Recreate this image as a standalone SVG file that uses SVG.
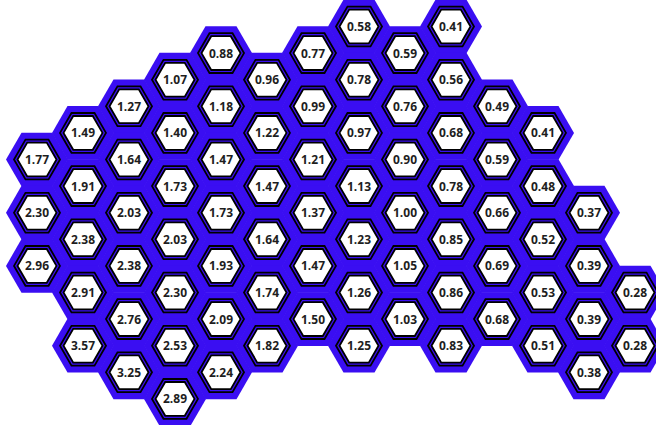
<svg xmlns="http://www.w3.org/2000/svg" xmlns:xlink="http://www.w3.org/1999/xlink" width="656" height="425" viewBox="0 0 656 425">
<style>
.t{font-family:"Open Sans","Liberation Sans",sans-serif;font-size:12px;font-weight:700;fill:#1e1e1e;text-anchor:middle;dominant-baseline:central}
.blue{fill:#3a0ef2}
.ring{fill:none;stroke:#000;stroke-width:1.8}
.in{fill:#fff;stroke:#000;stroke-width:1.8}
</style>
<defs>
<polygon id="bh" class="blue" points="31,0 15.5,26.85 -15.5,26.85 -31,0 -15.5,-26.85 15.5,-26.85"/>
<g id="cell">
<polygon class="ring" points="23,0 11.5,19.92 -11.5,19.92 -23,0 -11.5,-19.92 11.5,-19.92"/>
<polygon class="in" points="19.5,0 9.75,16.89 -9.75,16.89 -19.5,0 -9.75,-16.89 9.75,-16.89"/>
</g>
</defs>
<g id="tiles">
<use href="#bh" x="37" y="159.5"/><use href="#bh" x="37" y="212.7"/><use href="#bh" x="37" y="265.9"/>
<use href="#bh" x="83" y="132.9"/><use href="#bh" x="83" y="186.1"/><use href="#bh" x="83" y="239.3"/><use href="#bh" x="83" y="292.5"/><use href="#bh" x="83" y="345.7"/>
<use href="#bh" x="129" y="106.3"/><use href="#bh" x="129" y="159.5"/><use href="#bh" x="129" y="212.7"/><use href="#bh" x="129" y="265.9"/><use href="#bh" x="129" y="319.1"/><use href="#bh" x="129" y="372.3"/>
<use href="#bh" x="175" y="79.7"/><use href="#bh" x="175" y="132.9"/><use href="#bh" x="175" y="186.1"/><use href="#bh" x="175" y="239.3"/><use href="#bh" x="175" y="292.5"/><use href="#bh" x="175" y="345.7"/><use href="#bh" x="175" y="398.9"/>
<use href="#bh" x="221" y="53.1"/><use href="#bh" x="221" y="106.3"/><use href="#bh" x="221" y="159.5"/><use href="#bh" x="221" y="212.7"/><use href="#bh" x="221" y="265.9"/><use href="#bh" x="221" y="319.1"/><use href="#bh" x="221" y="372.3"/>
<use href="#bh" x="267" y="79.7"/><use href="#bh" x="267" y="132.9"/><use href="#bh" x="267" y="186.1"/><use href="#bh" x="267" y="239.3"/><use href="#bh" x="267" y="292.5"/><use href="#bh" x="267" y="345.7"/>
<use href="#bh" x="313" y="53.1"/><use href="#bh" x="313" y="106.3"/><use href="#bh" x="313" y="159.5"/><use href="#bh" x="313" y="212.7"/><use href="#bh" x="313" y="265.9"/><use href="#bh" x="313" y="319.1"/>
<use href="#bh" x="359" y="26.5"/><use href="#bh" x="359" y="79.7"/><use href="#bh" x="359" y="132.9"/><use href="#bh" x="359" y="186.1"/><use href="#bh" x="359" y="239.3"/><use href="#bh" x="359" y="292.5"/><use href="#bh" x="359" y="345.7"/>
<use href="#bh" x="405" y="53.1"/><use href="#bh" x="405" y="106.3"/><use href="#bh" x="405" y="159.5"/><use href="#bh" x="405" y="212.7"/><use href="#bh" x="405" y="265.9"/><use href="#bh" x="405" y="319.1"/>
<use href="#bh" x="451" y="26.5"/><use href="#bh" x="451" y="79.7"/><use href="#bh" x="451" y="132.9"/><use href="#bh" x="451" y="186.1"/><use href="#bh" x="451" y="239.3"/><use href="#bh" x="451" y="292.5"/><use href="#bh" x="451" y="345.7"/>
<use href="#bh" x="497" y="106.3"/><use href="#bh" x="497" y="159.5"/><use href="#bh" x="497" y="212.7"/><use href="#bh" x="497" y="265.9"/><use href="#bh" x="497" y="319.1"/>
<use href="#bh" x="543" y="132.9"/><use href="#bh" x="543" y="186.1"/><use href="#bh" x="543" y="239.3"/><use href="#bh" x="543" y="292.5"/><use href="#bh" x="543" y="345.7"/>
<use href="#bh" x="589" y="212.7"/><use href="#bh" x="589" y="265.9"/><use href="#bh" x="589" y="319.1"/><use href="#bh" x="589" y="372.3"/>
<use href="#bh" x="635" y="292.5"/><use href="#bh" x="635" y="345.7"/>
</g>
<g id="c0_2" transform="translate(37,159.5)"><use href="#cell"/><text class="t">1.77</text></g>
<g id="c0_3" transform="translate(37,212.7)"><use href="#cell"/><text class="t">2.30</text></g>
<g id="c0_4" transform="translate(37,265.9)"><use href="#cell"/><text class="t">2.96</text></g>
<g id="c1_2" transform="translate(83,132.9)"><use href="#cell"/><text class="t">1.49</text></g>
<g id="c1_3" transform="translate(83,186.1)"><use href="#cell"/><text class="t">1.91</text></g>
<g id="c1_4" transform="translate(83,239.3)"><use href="#cell"/><text class="t">2.38</text></g>
<g id="c1_5" transform="translate(83,292.5)"><use href="#cell"/><text class="t">2.91</text></g>
<g id="c1_6" transform="translate(83,345.7)"><use href="#cell"/><text class="t">3.57</text></g>
<g id="c2_1" transform="translate(129,106.3)"><use href="#cell"/><text class="t">1.27</text></g>
<g id="c2_2" transform="translate(129,159.5)"><use href="#cell"/><text class="t">1.64</text></g>
<g id="c2_3" transform="translate(129,212.7)"><use href="#cell"/><text class="t">2.03</text></g>
<g id="c2_4" transform="translate(129,265.9)"><use href="#cell"/><text class="t">2.38</text></g>
<g id="c2_5" transform="translate(129,319.1)"><use href="#cell"/><text class="t">2.76</text></g>
<g id="c2_6" transform="translate(129,372.3)"><use href="#cell"/><text class="t">3.25</text></g>
<g id="c3_1" transform="translate(175,79.7)"><use href="#cell"/><text class="t">1.07</text></g>
<g id="c3_2" transform="translate(175,132.9)"><use href="#cell"/><text class="t">1.40</text></g>
<g id="c3_3" transform="translate(175,186.1)"><use href="#cell"/><text class="t">1.73</text></g>
<g id="c3_4" transform="translate(175,239.3)"><use href="#cell"/><text class="t">2.03</text></g>
<g id="c3_5" transform="translate(175,292.5)"><use href="#cell"/><text class="t">2.30</text></g>
<g id="c3_6" transform="translate(175,345.7)"><use href="#cell"/><text class="t">2.53</text></g>
<g id="c3_7" transform="translate(175,398.9)"><use href="#cell"/><text class="t">2.89</text></g>
<g id="c4_0" transform="translate(221,53.1)"><use href="#cell"/><text class="t">0.88</text></g>
<g id="c4_1" transform="translate(221,106.3)"><use href="#cell"/><text class="t">1.18</text></g>
<g id="c4_2" transform="translate(221,159.5)"><use href="#cell"/><text class="t">1.47</text></g>
<g id="c4_3" transform="translate(221,212.7)"><use href="#cell"/><text class="t">1.73</text></g>
<g id="c4_4" transform="translate(221,265.9)"><use href="#cell"/><text class="t">1.93</text></g>
<g id="c4_5" transform="translate(221,319.1)"><use href="#cell"/><text class="t">2.09</text></g>
<g id="c4_6" transform="translate(221,372.3)"><use href="#cell"/><text class="t">2.24</text></g>
<g id="c5_1" transform="translate(267,79.7)"><use href="#cell"/><text class="t">0.96</text></g>
<g id="c5_2" transform="translate(267,132.9)"><use href="#cell"/><text class="t">1.22</text></g>
<g id="c5_3" transform="translate(267,186.1)"><use href="#cell"/><text class="t">1.47</text></g>
<g id="c5_4" transform="translate(267,239.3)"><use href="#cell"/><text class="t">1.64</text></g>
<g id="c5_5" transform="translate(267,292.5)"><use href="#cell"/><text class="t">1.74</text></g>
<g id="c5_6" transform="translate(267,345.7)"><use href="#cell"/><text class="t">1.82</text></g>
<g id="c6_0" transform="translate(313,53.1)"><use href="#cell"/><text class="t">0.77</text></g>
<g id="c6_1" transform="translate(313,106.3)"><use href="#cell"/><text class="t">0.99</text></g>
<g id="c6_2" transform="translate(313,159.5)"><use href="#cell"/><text class="t">1.21</text></g>
<g id="c6_3" transform="translate(313,212.7)"><use href="#cell"/><text class="t">1.37</text></g>
<g id="c6_4" transform="translate(313,265.9)"><use href="#cell"/><text class="t">1.47</text></g>
<g id="c6_5" transform="translate(313,319.1)"><use href="#cell"/><text class="t">1.50</text></g>
<g id="c7_0" transform="translate(359,26.5)"><use href="#cell"/><text class="t">0.58</text></g>
<g id="c7_1" transform="translate(359,79.7)"><use href="#cell"/><text class="t">0.78</text></g>
<g id="c7_2" transform="translate(359,132.9)"><use href="#cell"/><text class="t">0.97</text></g>
<g id="c7_3" transform="translate(359,186.1)"><use href="#cell"/><text class="t">1.13</text></g>
<g id="c7_4" transform="translate(359,239.3)"><use href="#cell"/><text class="t">1.23</text></g>
<g id="c7_5" transform="translate(359,292.5)"><use href="#cell"/><text class="t">1.26</text></g>
<g id="c7_6" transform="translate(359,345.7)"><use href="#cell"/><text class="t">1.25</text></g>
<g id="c8_0" transform="translate(405,53.1)"><use href="#cell"/><text class="t">0.59</text></g>
<g id="c8_1" transform="translate(405,106.3)"><use href="#cell"/><text class="t">0.76</text></g>
<g id="c8_2" transform="translate(405,159.5)"><use href="#cell"/><text class="t">0.90</text></g>
<g id="c8_3" transform="translate(405,212.7)"><use href="#cell"/><text class="t">1.00</text></g>
<g id="c8_4" transform="translate(405,265.9)"><use href="#cell"/><text class="t">1.05</text></g>
<g id="c8_5" transform="translate(405,319.1)"><use href="#cell"/><text class="t">1.03</text></g>
<g id="c9_0" transform="translate(451,26.5)"><use href="#cell"/><text class="t">0.41</text></g>
<g id="c9_1" transform="translate(451,79.7)"><use href="#cell"/><text class="t">0.56</text></g>
<g id="c9_2" transform="translate(451,132.9)"><use href="#cell"/><text class="t">0.68</text></g>
<g id="c9_3" transform="translate(451,186.1)"><use href="#cell"/><text class="t">0.78</text></g>
<g id="c9_4" transform="translate(451,239.3)"><use href="#cell"/><text class="t">0.85</text></g>
<g id="c9_5" transform="translate(451,292.5)"><use href="#cell"/><text class="t">0.86</text></g>
<g id="c9_6" transform="translate(451,345.7)"><use href="#cell"/><text class="t">0.83</text></g>
<g id="c10_1" transform="translate(497,106.3)"><use href="#cell"/><text class="t">0.49</text></g>
<g id="c10_2" transform="translate(497,159.5)"><use href="#cell"/><text class="t">0.59</text></g>
<g id="c10_3" transform="translate(497,212.7)"><use href="#cell"/><text class="t">0.66</text></g>
<g id="c10_4" transform="translate(497,265.9)"><use href="#cell"/><text class="t">0.69</text></g>
<g id="c10_5" transform="translate(497,319.1)"><use href="#cell"/><text class="t">0.68</text></g>
<g id="c11_2" transform="translate(543,132.9)"><use href="#cell"/><text class="t">0.41</text></g>
<g id="c11_3" transform="translate(543,186.1)"><use href="#cell"/><text class="t">0.48</text></g>
<g id="c11_4" transform="translate(543,239.3)"><use href="#cell"/><text class="t">0.52</text></g>
<g id="c11_5" transform="translate(543,292.5)"><use href="#cell"/><text class="t">0.53</text></g>
<g id="c11_6" transform="translate(543,345.7)"><use href="#cell"/><text class="t">0.51</text></g>
<g id="c12_3" transform="translate(589,212.7)"><use href="#cell"/><text class="t">0.37</text></g>
<g id="c12_4" transform="translate(589,265.9)"><use href="#cell"/><text class="t">0.39</text></g>
<g id="c12_5" transform="translate(589,319.1)"><use href="#cell"/><text class="t">0.39</text></g>
<g id="c12_6" transform="translate(589,372.3)"><use href="#cell"/><text class="t">0.38</text></g>
<g id="c13_5" transform="translate(635,292.5)"><use href="#cell"/><text class="t">0.28</text></g>
<g id="c13_6" transform="translate(635,345.7)"><use href="#cell"/><text class="t">0.28</text></g>
</svg>
